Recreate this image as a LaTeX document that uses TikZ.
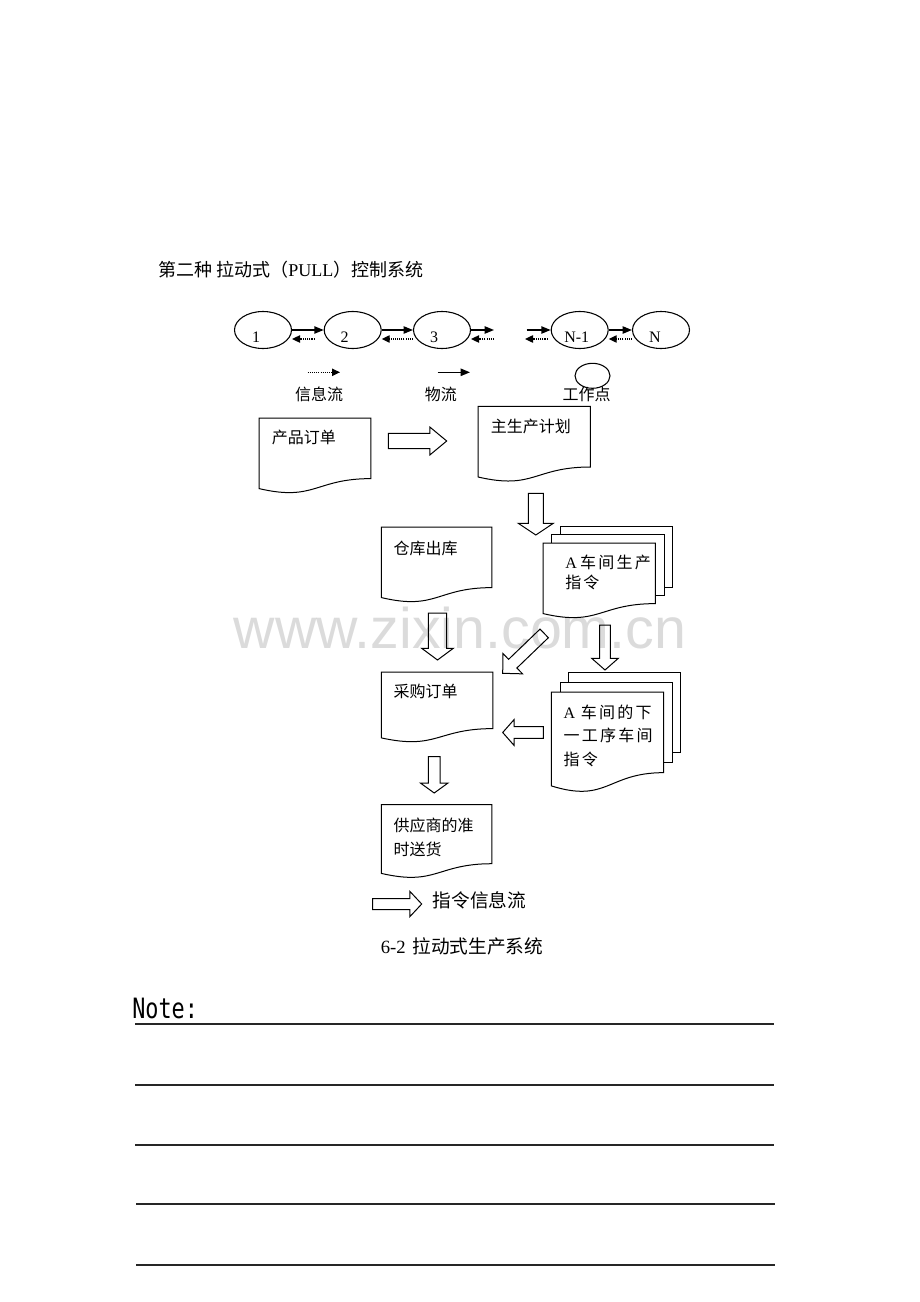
\documentclass[tikz,border=0pt]{standalone}
\usepackage{fontspec}
\setmainfont{Liberation Serif}
\newfontfamily\cjk{Noto Sans CJK SC}
\newfontfamily\cjkls[LetterSpace=14]{Noto Sans CJK SC}
\newfontfamily\wmfont{Liberation Sans}
\newfontfamily\notefont{DejaVu Sans Mono}
\usetikzlibrary{shapes.geometric,arrows.meta,calc}

\tikzset{
  station/.style={ellipse, draw, line width=0.8pt, minimum width=42.75pt, minimum height=27.75pt, inner sep=0pt},
  doc/.style={rectangle, inner sep=0pt},
  docline/.style={line width=0.75pt, line join=miter, fill=white},
  fatline/.style={draw, line width=0.75pt, line join=miter},
  goods/.style={line width=1pt, -{Triangle[length=7pt,width=5.5pt]}},
  info/.style={line width=1pt, dash pattern=on 0.8pt off 0.8pt, -{Triangle[length=6pt,width=5.5pt]}},
  txt/.style={inner sep=0pt, font=\fontsize{12}{15}\selectfont\cjk},
  numtxt/.style={font=\fontsize{12}{12}\selectfont},
  noteline/.style={line width=1.1pt, black!85},
}

% document shape with wavy bottom
\newcommand{\docline}[1]{%
  \draw[docline] (#1.north west) -- (#1.north east) -- ($(#1.north east)!0.802!(#1.south east)$)
    .. controls ($(#1.north)!0.802!(#1.south)$) and ($(#1.north)!1.1075!(#1.south)$) .. ($(#1.north west)!0.934!(#1.south west)$) -- cycle;}
% the two sheets behind a multi-document
\newcommand{\sheets}[3]{%
  \draw[docline] ($(#1.north west)+(2*#2,-2*#3)$) rectangle ($(#1.north east)!0.802!(#1.south east)+(2*#2,-2*#3)$);
  \draw[docline] ($(#1.north west)+(#2,-#3)$) rectangle ($(#1.north east)!0.802!(#1.south east)+(#2,-#3)$);}
% hollow block arrow: tail, tip, shaft half width, head half width, head length
\newcommand{\fatarrow}[5]{%
  \coordinate (fa-h) at ($(#2)!#5!(#1)$);
  \draw[fatline] ($(#1)!#3!90:(#2)$) -- ($(fa-h)!#3!90:(#2)$) -- ($(fa-h)!#4!90:(#2)$) -- (#2)
    -- ($(fa-h)!#4!-90:(#2)$) -- ($(fa-h)!#3!-90:(#2)$) -- ($(#1)!#3!-90:(#2)$) -- cycle;}

\begin{document}
\begin{tikzpicture}[x=0.75pt,y=0.75pt,yscale=-1]
\useasboundingbox (0,0) rectangle (920,1302);

% Title
\node[anchor=west, inner sep=0pt, font=\fontsize{13.5}{15}\selectfont] (title) at (158,270) {\cjk 第二种 拉动式（{\rmfamily PULL}）控制系统};

%Shape: Ellipse (work stations)
\node[station, label={[numtxt, shift={(-7,-7)}]center:1}] (e1) at (263,330) {};
\node[station, label={[numtxt, shift={(-8,-7)}]center:2}] (e2) at (352.7,330) {};
\node[station, label={[numtxt, shift={(-8,-7)}]center:3}] (e3) at (442,330) {};
\node[station, label={[numtxt, shift={(-3,-7)}]center:N-1}] (eN1) at (579.7,330) {};
\node[station, label={[numtxt, shift={(-6,-7)}]center:N}] (eN) at (661,330) {};
\coordinate (gapL) at (494,330);
\coordinate (gapLi) at (494,339);
\coordinate (gapR) at (526.7,330);
\coordinate (gapRi) at (525,339);

%Straight Lines (flows)
\draw[goods] (e1) -- (e2);
\draw[info] ([shift={(-9,9)}]e2.west) -- ([shift={(0,9)}]e1.east);
\draw[goods] (e2) -- (e3);
\draw[info] ([shift={(0,9)}]e3.west) -- ([shift={(0,9)}]e2.east);
\draw[goods] (e3) -- (gapL);
\draw[info] (gapLi) -- ([shift={(0,9)}]e3.east);
\draw[goods] (gapR) -- (eN1);
\draw[info] ([shift={(-3,9)}]eN1.west) -- (gapRi);
\draw[goods] (eN1) -- (eN);
\draw[info] ([shift={(0,9)}]eN.west) -- ([shift={(0,9)}]eN1.east);

% Legend
\coordinate (li-s) at (307.7,372.3);
\coordinate (li-e) at (340,372.3);
\coordinate (lg-s) at (437.7,372.3);
\coordinate (lg-e) at (470,372.3);
\draw[info] (li-s) -- (li-e);
\draw[goods] (lg-s) -- (lg-e);
\node[ellipse, draw, line width=0.8pt, minimum width=26.25pt, minimum height=18.75pt, inner sep=0pt] (wp) at (592.5,375.8) {};
\node[txt] (li-t) at (319,394) {信息流};
\node[txt] (lg-t) at (440.8,394) {物流};
\node[txt] (wp-t) at (586.7,394) {工作点};

%Shape: Document
\node[doc, minimum width=83.55pt, minimum height=56.25pt] (order) at (315,455.8) {};
\node[doc, minimum width=83.8pt, minimum height=56.25pt] (mps) at (534.2,444.2) {};
\node[doc, minimum width=82.5pt, minimum height=56.25pt] (stock) at (436.7,564.8) {};
\node[doc, minimum width=83.8pt, minimum height=56.25pt] (shopA) at (599.2,580.8) {};
\node[doc, minimum width=83.25pt, minimum height=52.5pt] (purchase) at (437.2,707.3) {};
\node[doc, minimum width=83.7pt, minimum height=75pt] (shopB) at (607.5,742.3) {};
\node[doc, minimum width=82.5pt, minimum height=54.75pt] (supplier) at (436.7,841.5) {};
\docline{order}
\docline{mps}
\docline{stock}
\sheets{shopA}{8.7}{8.2}
\docline{shopA}
\docline{purchase}
\sheets{shopB}{8.7}{10}
\docline{shopB}
\docline{supplier}

% Text Node
\node[txt, anchor=west] (order-t) at (271.7,437.3) {产品订单};
\node[txt, anchor=west] (mps-t) at (490.7,426.7) {主生产计划};
\node[txt, anchor=west] (stock-t) at (393.3,548.3) {仓库出库};
\node[txt, anchor=north west, align=left, font=\fontsize{12}{15}\selectfont\cjkls] (shopA-t) at (565,554.7) {{\rmfamily A}\hspace{2.5pt}车间生产\\指令};
\node[txt, anchor=west] (purchase-t) at (393.3,691) {采购订单};
\node[txt, anchor=north west, align=left, font=\fontsize{12}{17.5}\selectfont\cjkls] (shopB-t) at (563.3,704.7) {{\rmfamily A}\ 车间的下\\一工序车间\\指令};
\node[txt, anchor=north west, align=left, font=\fontsize{12}{17.5}\selectfont\cjk] (supplier-t) at (393.3,818) {供应商的准\\时送货};

%Block Arrows
\coordinate (a1-s) at (388.3,441);
\coordinate (a1-e) at (446.7,441);
\coordinate (a2-s) at (535.8,493.3);
\coordinate (a2-e) at (535.8,535);
\coordinate (a3-s) at (437.5,613);
\coordinate (a3-e) at (437.5,660);
\coordinate (a4-s) at (544.2,633.4);
\coordinate (a4-e) at (502.7,673.3);
\coordinate (a5-s) at (605,625);
\coordinate (a5-e) at (605,670);
\coordinate (a6-s) at (543.3,732.5);
\coordinate (a6-e) at (502.7,732.5);
\coordinate (a7-s) at (434.2,756.7);
\coordinate (a7-e) at (434.2,793);
\coordinate (a8-s) at (372.7,904);
\coordinate (a8-e) at (421.7,904);
\fatarrow{a1-s}{a1-e}{5.63pt}{10.39pt}{12.53pt}
\fatarrow{a2-s}{a2-e}{5.63pt}{13.13pt}{8.78pt}
\fatarrow{a3-s}{a3-e}{6.9pt}{11.85pt}{8.78pt}
\fatarrow{a4-s}{a4-e}{4.5pt}{10.58pt}{10.43pt}
\fatarrow{a5-s}{a5-e}{4.01pt}{9.98pt}{8.78pt}
\fatarrow{a6-s}{a6-e}{4.35pt}{9.64pt}{8.48pt}
\fatarrow{a7-s}{a7-e}{4.39pt}{10.35pt}{7.5pt}
\fatarrow{a8-s}{a8-e}{4.13pt}{9.38pt}{8.78pt}
\node[txt, anchor=west, font=\fontsize{14}{16}\selectfont\cjk] (cmd-t) at (432.7,900) {指令信息流};

% Caption
\node[inner sep=0pt, font=\fontsize{14}{16}\selectfont] (caption) at (462,946) {6-2\hspace{5pt}{\cjk 拉动式生产系统}};

% Note
\node[anchor=west, inner sep=0pt, font=\fontsize{21}{21}\selectfont\notefont] (note) at (132,1008) {\scalebox{0.78}[1]{Note:}};
\draw[noteline] (135,1024) -- (774,1024);
\draw[noteline] (135,1085) -- (774,1085);
\draw[noteline] (135,1145) -- (774,1145);
\draw[noteline] (136,1204) -- (775,1204);
\draw[noteline] (136,1265) -- (775,1265);

% Watermark
\node[anchor=base, font=\fontsize{43}{43}\selectfont\wmfont, text=black, text opacity=0.14] (wm) at (460,648) {www.zixin.com.cn};

\end{tikzpicture}
\end{document}
